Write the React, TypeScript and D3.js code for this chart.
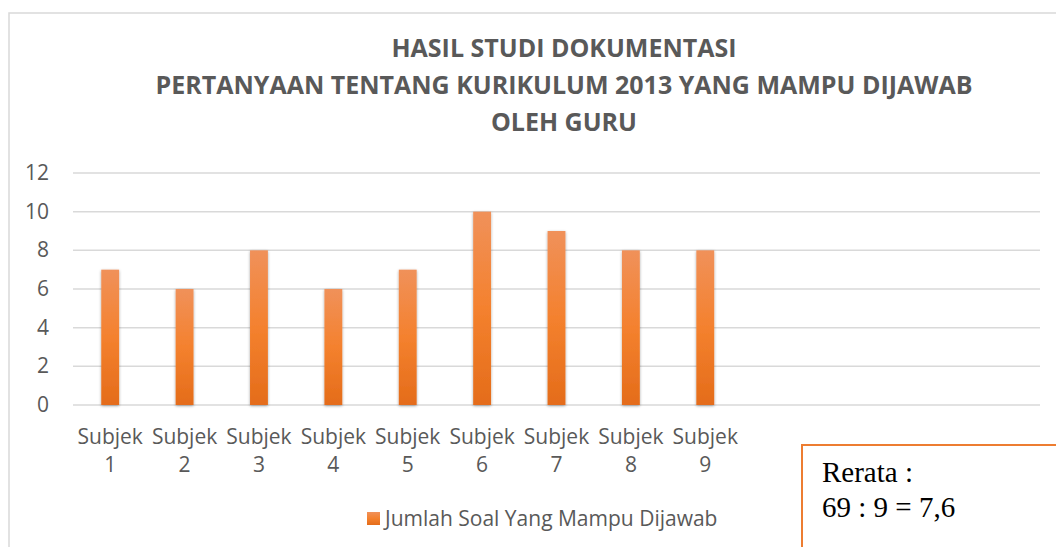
import React from "react";
import * as d3 from "d3";

const categories = ["Subjek 1","Subjek 2","Subjek 3","Subjek 4","Subjek 5","Subjek 6","Subjek 7","Subjek 8","Subjek 9","","","",""];
const values: (number | null)[] = [7,6,8,6,7,10,9,8,8,null,null,null,null];
const yTicks = [0,2,4,6,8,10,12];
const titleLines = ["HASIL STUDI DOKUMENTASI","PERTANYAAN TENTANG KURIKULUM 2013 YANG MAMPU DIJAWAB","OLEH GURU"];
const seriesName = "Jumlah Soal Yang Mampu Dijawab";
const noteLines = ["Rerata :","69 : 9 = 7,6"];

export default function App() {
  const W = 1056, H = 547;
  const left = 73, right = 1040, top = 173, bottom = 405;
  const x = d3.scaleBand<string>().domain(categories.map((c, i) => String(i))).range([left, right]).paddingInner(0.76).paddingOuter(0.38);
  const y = d3.scaleLinear().domain([0, 12]).range([bottom, top]);
  const font = "'Open Sans', sans-serif";
  const grey = "#595959";
  return (
    <svg width={W} height={H} style={{ position: "absolute", left: 0, top: 0, background: "#fff" }}>
      <defs>
        <linearGradient id="barg" x1="0" y1="0" x2="0" y2="1">
          <stop offset="0" stopColor="#F0915A" />
          <stop offset="0.5" stopColor="#F4812E" />
          <stop offset="1" stopColor="#E46C1A" />
        </linearGradient>
        <filter id="sh" x="-50%" y="-10%" width="200%" height="120%">
          <feGaussianBlur in="SourceAlpha" stdDeviation="1.5" />
          <feOffset dx="0" dy="1" result="b" />
          <feComponentTransfer><feFuncA type="linear" slope="0.35" /></feComponentTransfer>
          <feMerge><feMergeNode /><feMergeNode in="SourceGraphic" /></feMerge>
        </filter>
      </defs>
      <rect x={9} y={13} width={1060} height={560} fill="none" stroke="#d9d9d9" strokeWidth={1.5} />
      {titleLines.map((t, i) => (
        <text key={i} x={564} y={57 + i * 37} textAnchor="middle" fontFamily={font} fontWeight={700} fontSize={25} fill={grey}>{t}</text>
      ))}
      {yTicks.map((t) => (
        <g key={t}>
          <line x1={left} x2={right} y1={y(t)} y2={y(t)} stroke="#d9d9d9" strokeWidth={1.5} />
          <text x={49} y={y(t) + 7} textAnchor="end" fontFamily={font} fontSize={21} fill={grey}>{t}</text>
        </g>
      ))}
      {values.map((v, i) => v == null ? null : (
        <rect key={i} x={x(String(i))} y={y(v)} width={x.bandwidth()} height={y(0) - y(v)} fill="url(#barg)" filter="url(#sh)" />
      ))}
      {categories.map((c, i) => {
        if (!c) return null;
        const parts = c.split(" ");
        const cx = (x(String(i)) as number) + x.bandwidth() / 2;
        return (
          <text key={i} textAnchor="middle" fontFamily={font} fontSize={21} fill={grey}>
            <tspan x={cx} y={444}>{parts[0]}</tspan>
            <tspan x={cx} y={472}>{parts[1]}</tspan>
          </text>
        );
      })}
      <rect x={367} y={512} width={13} height={13} fill="url(#barg)" />
      <text x={385} y={526} fontFamily={font} fontSize={21} fill={grey}>{seriesName}</text>
      <rect x={802} y={445} width={300} height={150} fill="#fff" stroke="#ED7D31" strokeWidth={2} />
      {noteLines.map((t, i) => (
        <text key={i} x={822} y={482 + i * 35} fontFamily="'Liberation Serif', 'Times New Roman', serif" fontSize={29} fill="#000">{t}</text>
      ))}
    </svg>
  );
}
